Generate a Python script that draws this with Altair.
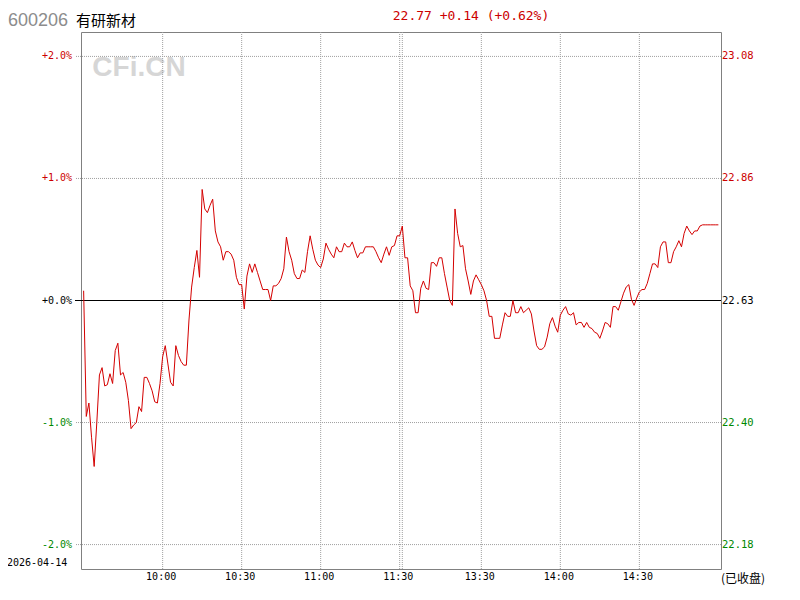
import altair as alt
import pandas as pd

# percent change vs previous close (22.63), one value per minute (242 points)
pct = [
    0.08, -0.95, -0.84, -1.12, -1.36, -1.00, -0.61, -0.55, -0.70, -0.69,
    -0.60, -0.68, -0.41, -0.35, -0.61, -0.59, -0.67, -0.82, -1.05, -1.02,
    -1.00, -0.87, -0.91, -0.63, -0.63, -0.68, -0.74, -0.83, -0.84, -0.68,
    -0.46, -0.37, -0.52, -0.67, -0.70, -0.37, -0.45, -0.50, -0.53, -0.53,
    -0.16, 0.11, 0.27, 0.41, 0.19, 0.91, 0.75, 0.72, 0.78, 0.83,
    0.57, 0.48, 0.44, 0.33, 0.40, 0.40, 0.38, 0.33, 0.19, 0.13,
    0.13, -0.07, 0.20, 0.30, 0.23, 0.30, 0.23, 0.16, 0.09, 0.09,
    0.09, 0.00, 0.12, 0.12, 0.14, 0.18, 0.26, 0.52, 0.40, 0.33,
    0.22, 0.18, 0.18, 0.25, 0.23, 0.40, 0.53, 0.42, 0.33, 0.29,
    0.27, 0.34, 0.47, 0.42, 0.38, 0.35, 0.44, 0.40, 0.40, 0.47,
    0.44, 0.44, 0.48, 0.41, 0.35, 0.39, 0.39, 0.44, 0.44, 0.44,
    0.44, 0.40, 0.35, 0.31, 0.38, 0.44, 0.37, 0.44, 0.45, 0.53,
    0.53, 0.61, 0.35, 0.35, 0.12, 0.08, -0.10, -0.10, 0.10, 0.16,
    0.10, 0.09, 0.31, 0.31, 0.28, 0.35, 0.35, 0.22, 0.11, 0.00,
    -0.04, 0.75, 0.55, 0.44, 0.45, 0.26, 0.16, 0.05, 0.16, 0.21,
    0.17, 0.13, 0.08, 0.00, -0.13, -0.13, -0.31, -0.31, -0.31, -0.20,
    -0.10, -0.13, -0.13, 0.00, -0.10, -0.10, -0.05, -0.10, -0.08, -0.06,
    -0.11, -0.25, -0.37, -0.40, -0.40, -0.38, -0.30, -0.19, -0.14, -0.21,
    -0.26, -0.12, -0.08, -0.05, -0.11, -0.12, -0.10, -0.20, -0.18, -0.18,
    -0.22, -0.18, -0.22, -0.23, -0.26, -0.27, -0.31, -0.25, -0.18, -0.19,
    -0.22, -0.05, -0.05, -0.08, -0.01, 0.06, 0.11, 0.13, 0.01, -0.04,
    0.02, 0.07, 0.09, 0.09, 0.14, 0.22, 0.30, 0.30, 0.27, 0.44,
    0.48, 0.48, 0.31, 0.31, 0.40, 0.44, 0.49, 0.44, 0.55, 0.61,
    0.57, 0.54, 0.57, 0.57, 0.61, 0.62, 0.62, 0.62, 0.62, 0.62,
    0.62, 0.62,
]
minute_idx = list(range(len(pct)))

grid_x = [30, 60, 90, 120, 121, 151, 181, 211]
time_label_idx = [30, 60, 90, 120, 151, 181, 211]
time_labels = ["10:00", "10:30", "11:00", "11:30", "13:30", "14:00", "14:30"]

grid_pct = [-2, -1, 1, 2]
left_levels = [2, 1, 0, -1, -2]
left_labels = ["+2.0%", "+1.0%", "+0.0%", "-1.0%", "-2.0%"]
right_labels = ["23.08", "22.86", "22.63", "22.40", "22.18"]
level_colors = ["#cc0000", "#cc0000", "#000000", "#008800", "#008800"]

W, H = 640, 537
xs = alt.Scale(domain=[-1, 242], nice=False, zero=False)
ys = alt.Scale(domain=[-2.2, 2.2], nice=False, zero=False)
X0 = 81  # screen x of plot left
Y0 = 32  # screen y of plot top

df = pd.DataFrame({"i": minute_idx, "pct": pct})
gx = pd.DataFrame({"i": grid_x})
gy = pd.DataFrame({"p": grid_pct})
zero = pd.DataFrame({"p": [0]})
lab = pd.DataFrame({"p": left_levels, "l": left_labels, "r": right_labels, "c": level_colors})
tl = pd.DataFrame({"i": time_label_idx, "t": time_labels})

mono = "DejaVu Sans Mono"

vgrid = alt.Chart(gx).mark_rule(color="#a0a0a0", strokeDash=[1, 1], strokeWidth=1).encode(
    x=alt.X("i:Q", scale=xs, axis=None), y=alt.value(0), y2=alt.value(H))
hgrid = alt.Chart(gy).mark_rule(color="#a0a0a0", strokeDash=[1, 1], strokeWidth=1).encode(
    y=alt.Y("p:Q", scale=ys, axis=None), x=alt.value(-5), x2=alt.value(W))
zline = alt.Chart(zero).mark_rule(color="#000000", strokeWidth=1).encode(
    y=alt.Y("p:Q", scale=ys, axis=None), x=alt.value(-6), x2=alt.value(W))

line = alt.Chart(df).mark_line(color="#d40000", strokeWidth=1, interpolate="linear").encode(
    x=alt.X("i:Q", scale=xs, axis=None), y=alt.Y("pct:Q", scale=ys, axis=None))

left_txt = alt.Chart(lab).mark_text(align="right", baseline="middle", font=mono, fontSize=10).encode(
    y=alt.Y("p:Q", scale=ys, axis=None), x=alt.value(-9), text="l:N",
    color=alt.Color("c:N", scale=None))
right_txt = alt.Chart(lab).mark_text(align="left", baseline="middle", font=mono, fontSize=10.5).encode(
    y=alt.Y("p:Q", scale=ys, axis=None), x=alt.value(641), text="r:N",
    color=alt.Color("c:N", scale=None))
time_txt = alt.Chart(tl).mark_text(align="center", baseline="middle", font=mono, fontSize=10,
                                   color="#000", dx=-1.5).encode(
    x=alt.X("i:Q", scale=xs, axis=None), y=alt.value(577 - Y0), text="t:N")

def label(text, sx, sy, **kw):
    return alt.Chart(pd.DataFrame({"t": [text]})).mark_text(**kw).encode(
        x=alt.value(sx - X0), y=alt.value(sy - Y0), text="t:N")

code_t = label("600206", 8, 26, align="left", baseline="alphabetic",
               font="Liberation Sans", fontSize=18, color="#8c8c8c")
name_t = label("有研新材", 76, 26, align="left", baseline="alphabetic",
               font="Noto Sans CJK SC", fontSize=15, color="#000000")
price_t = label("22.77 +0.14 (+0.62%)", 471, 20, align="center", baseline="alphabetic",
                font=mono, fontSize=13, color="#cc0000")
wm_t = label("CFi.CN", 139, 76, align="center", baseline="alphabetic",
             font="Liberation Sans", fontSize=28, fontWeight="bold", color="#d6d6d6")
date_t = label("2026-04-14", 7, 563, align="left", baseline="middle",
               font=mono, fontSize=10, color="#000000")
closed_t = label("(已收盘)", 721, 579, align="left", baseline="middle",
                 font="Noto Sans CJK SC", fontSize=12, color="#000000")

chart = alt.layer(
    wm_t, vgrid, hgrid, zline, line, left_txt, right_txt, time_txt,
    code_t, name_t, price_t, date_t, closed_t,
).properties(
    width=W, height=H,
    autosize=alt.AutoSizeParams(type="none"),
    padding={"left": X0 - 8, "top": Y0 - 8, "right": 64, "bottom": 21},
    background="#ffffff",
).configure_view(stroke="#808080", strokeWidth=1)

chart.save("out.html", embed_options={"renderer": "svg", "actions": False})
